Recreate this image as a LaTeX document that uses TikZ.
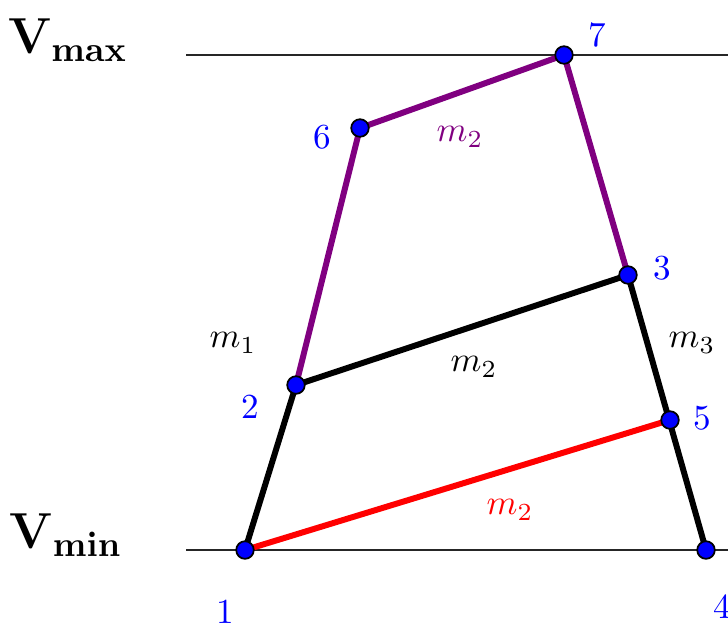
\documentclass[tikz,border=0pt]{standalone}
\usepackage{amsmath,amssymb}
\usetikzlibrary{positioning}
\definecolor{upper}{RGB}{128,0,128}
\tikzset{
  vert/.style={circle, fill=blue, draw=black, line width=0.5pt, inner sep=0pt, minimum size=5pt},
  edge/.style={line width=1.7pt, line cap=round},
  num/.style={blue},
  level/.style={black!85, line width=0.45pt},
}

\begin{document}
\begin{tikzpicture}
  \useasboundingbox (0,0) rectangle (7.28,-6.28);
  % vertices
  \coordinate (p1) at (2.45,-5.50);
  \coordinate (p2) at (2.96,-3.85);
  \coordinate (p3) at (6.28,-2.75);
  \coordinate (p4) at (7.06,-5.50);
  \coordinate (p5) at (6.70,-4.20);
  \coordinate (p6) at (3.60,-1.28);
  \coordinate (p7) at (5.64,-0.55);
  % levels
  \coordinate (maxL) at (1.86,-0.55);
  \coordinate (maxR) at (7.28,-0.55);
  \coordinate (minL) at (1.86,-5.50);
  \coordinate (minR) at (7.28,-5.50);
  \draw[level] (maxL) -- (maxR);
  \draw[level] (minL) -- (minR);
  \node (vmax) at (0.68,-0.40) {\Large $\mathbf{V_{max}}$};
  \node (vmin) at (0.66,-5.35) {\Large $\mathbf{V_{min}}$};
  % edges
  \draw[edge] (p1) -- (p2) -- (p3) -- (p4);
  \draw[edge, red] (p1) -- (p5);
  \draw[edge, upper] (p2) -- (p6) -- (p7) -- (p3);
  \foreach \i in {1,...,7}
    \node[vert] (v\i) at (p\i) {};
  % vertex numbers
  \node[num] (n1) at (2.25,-6.12) {1};
  \node[num] (n2) at (2.50,-4.07) {2};
  \node[num] (n3) at (6.62,-2.68) {3};
  \node[num] (n4) at (7.22,-6.07) {4};
  \node[num] (n5) at (7.02,-4.18) {5};
  \node[num] (n6) at (3.22,-1.37) {6};
  \node[num] (n7) at (5.97,-0.35) {7};
  % slopes
  \node[upper] (m2top) at (4.60,-1.37) {$m_2$};
  \node (m1) at (2.33,-3.43) {$m_1$};
  \node (m2mid) at (4.74,-3.67) {$m_2$};
  \node (m3) at (6.92,-3.43) {$m_3$};
  \node[red] (m2low) at (5.10,-5.10) {$m_2$};
\end{tikzpicture}
\end{document}
